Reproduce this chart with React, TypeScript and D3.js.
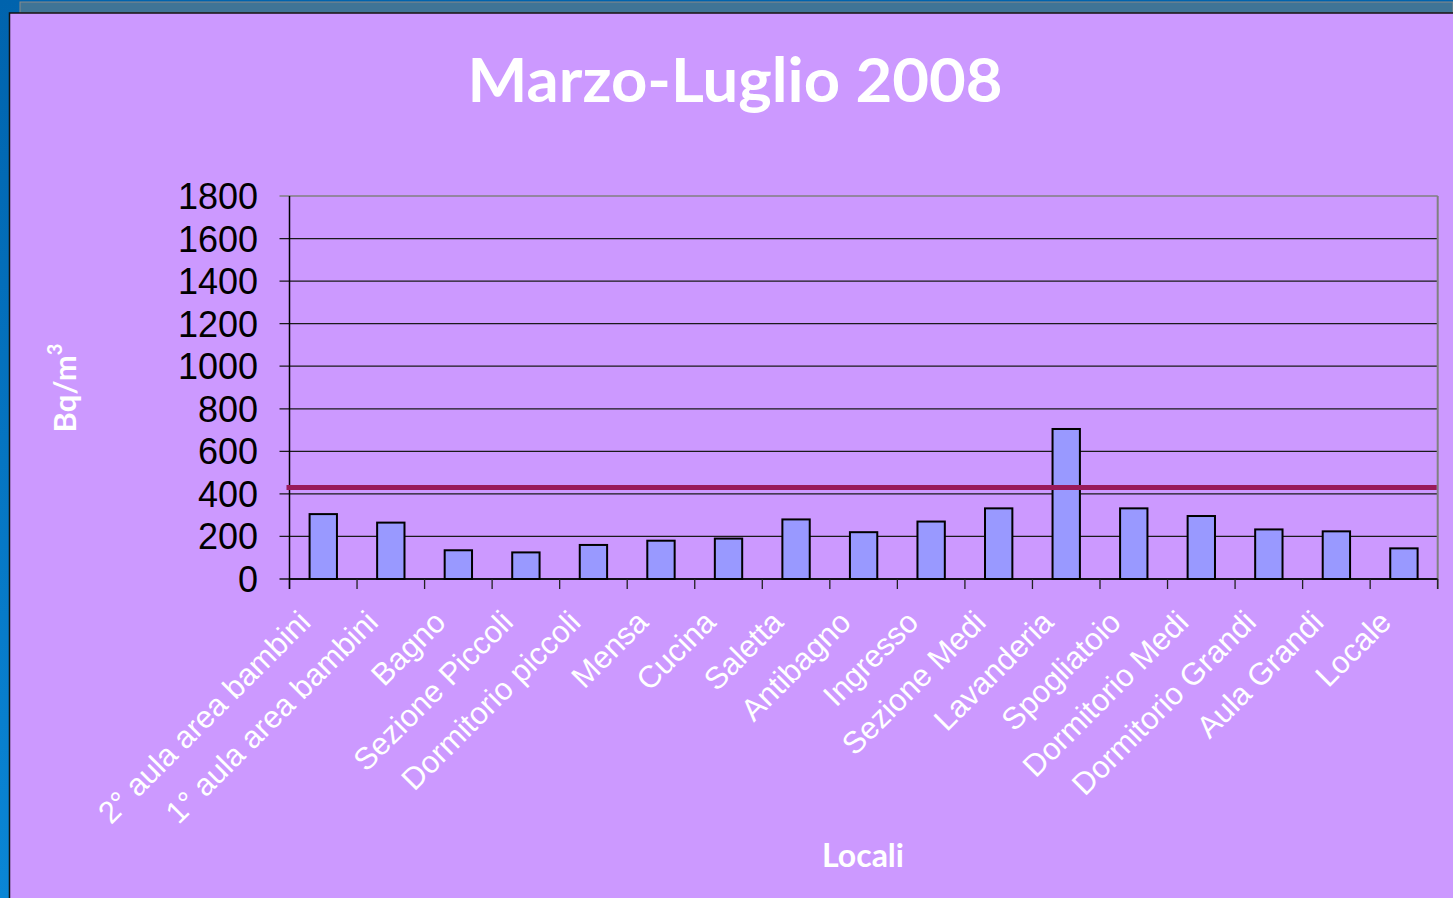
import React from "react";
import * as d3 from "d3";

const categories = [
  "2° aula area bambini",
  "1° aula area bambini",
  "Bagno",
  "Sezione Piccoli",
  "Dormitorio piccoli",
  "Mensa",
  "Cucina",
  "Saletta",
  "Antibagno",
  "Ingresso",
  "Sezione Medi",
  "Lavanderia",
  "Spogliatoio",
  "Dormitorio Medi",
  "Dormitorio Grandi",
  "Aula Grandi",
  "Locale",
];
const values = [305, 265, 135, 125, 160, 180, 190, 280, 220, 270, 332, 705, 332, 296, 233, 224, 144];
const referenceLevel = [430];
const yTicks = [0, 200, 400, 600, 800, 1000, 1200, 1400, 1600, 1800];
const title = "Marzo-Luglio 2008";
const xTitle = "Locali";

const W = 1453;
const H = 898;
const plot = { left: 289.5, right: 1437.7, top: 196, bottom: 579 };

export default function App() {
  const x = d3.scaleBand<string>().domain(categories).range([plot.left, plot.right]).padding(0);
  const y = d3.scaleLinear().domain([0, 1800]).range([plot.bottom, plot.top]);
  const bw = x.bandwidth() * 0.405;
  const boundaries = d3.range(categories.length + 1).map((i) => plot.left + i * x.step());

  return (
    <svg width={W} height={H} style={{ position: "absolute", left: 0, top: 0 }}>
      <defs>
        <linearGradient id="bluebg" x1="0" y1="0" x2="0" y2="1">
          <stop offset="0" stopColor="#0063ad" />
          <stop offset="1" stopColor="#0a86d6" />
        </linearGradient>
      </defs>
      <rect x={0} y={0} width={W} height={H} fill="url(#bluebg)" />
      <rect x={20} y={2} width={W - 20} height={11} fill="#3f7496" stroke="#8a8a8a" strokeWidth={1} />
      <rect x={9.5} y={13} width={W} height={H} fill="#cc99ff" stroke="#111" strokeWidth={1.5} />

      <text
        x={735}
        y={102}
        textAnchor="middle"
        fill="#fff"
        fontFamily="Lato, 'Noto Sans', sans-serif"
        fontWeight="bold"
        fontSize={61}
        textLength={535}
        lengthAdjust="spacingAndGlyphs"
      >
        {title}
      </text>

      {/* gridlines */}
      {yTicks.map((t) => (
        <line
          key={"g" + t}
          x1={plot.left - 10}
          x2={plot.right}
          y1={y(t)}
          y2={y(t)}
          stroke={t === 1800 ? "#808080" : "#1a1a1a"}
          strokeWidth={1.3}
        />
      ))}
      {/* right border */}
      <line x1={plot.right} x2={plot.right} y1={plot.top} y2={plot.bottom + 10} stroke="#808080" strokeWidth={2} />

      {/* tick labels */}
      {yTicks.map((t) => (
        <text
          key={"t" + t}
          x={258}
          y={y(t)}
          dy="0.36em"
          textAnchor="end"
          fill="#000"
          fontFamily="'Liberation Sans', Arial, sans-serif"
          fontSize={36}
        >
          {t}
        </text>
      ))}

      {/* bars */}
      {categories.map((c, i) => {
        const cx = (x(c) as number) + x.bandwidth() / 2;
        return (
          <rect
            key={"b" + c}
            x={cx - bw / 2}
            y={y(values[i])}
            width={bw}
            height={y(0) - y(values[i])}
            fill="#9999ff"
            stroke="#000"
            strokeWidth={2}
          />
        );
      })}

      {/* x axis & ticks */}
      <line x1={plot.left} x2={plot.right} y1={plot.bottom} y2={plot.bottom} stroke="#000" strokeWidth={1.5} />
      {boundaries.map((bx, i) => (
        <line key={"xt" + i} x1={bx} x2={bx} y1={plot.bottom} y2={plot.bottom + 10} stroke="#222" strokeWidth={1.3} />
      ))}
      <line x1={plot.left} x2={plot.left} y1={plot.top} y2={plot.bottom + 10} stroke="#000" strokeWidth={1.5} />

      {/* reference line */}
      <line
        x1={plot.left - 3}
        x2={plot.right - 1}
        y1={y(referenceLevel[0])}
        y2={y(referenceLevel[0])}
        stroke="#991a5a"
        strokeWidth={5}
      />

      {/* category labels */}
      {categories.map((c) => {
        const cx = (x(c) as number) + x.bandwidth() / 2;
        const ax = cx - 11;
        const ay = 624;
        return (
          <text
            key={"l" + c}
            x={ax}
            y={ay}
            transform={`rotate(-45 ${ax} ${ay})`}
            textAnchor="end"
            fill="#fff"
            fontFamily="'Liberation Sans', Arial, sans-serif"
            fontSize={31}
          >
            {c}
          </text>
        );
      })}

      {/* axis titles */}
      <text
        x={863}
        y={867}
        textAnchor="middle"
        fill="#fff"
        fontFamily="Lato, 'Noto Sans', sans-serif"
        fontWeight="bold"
        fontSize={32}
      >
        {xTitle}
      </text>
      <text
        transform="translate(76 388) rotate(-90)"
        textAnchor="middle"
        fill="#fff"
        fontFamily="Lato, 'Noto Sans', sans-serif"
        fontWeight="bold"
        fontSize={31}
      >
        Bq/m
        <tspan fontSize={20} dy={-14}>
          3
        </tspan>
      </text>
    </svg>
  );
}
